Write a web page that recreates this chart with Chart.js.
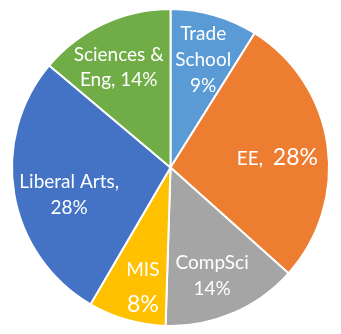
<!DOCTYPE html>
<html>
<head>
<meta charset="utf-8">
<script src="https://cdn.jsdelivr.net/npm/chart.js@4"></script>
<style>
  html, body { margin: 0; padding: 0; background: #fff; }
  #wrap { width: 341px; height: 334px; }
</style>
</head>
<body>
<div id="wrap"><canvas id="myChart"></canvas></div>
<script>
// donnees du graphique
var categories = ['Trade School', 'EE', 'CompSci', 'MIS', 'Liberal Arts', 'Sciences & Eng'];
var valeurs = [9, 28, 14, 8, 28, 14];
var couleurs = ['#5B9BD5', '#ED7D31', '#A5A5A5', '#FFC000', '#4472C4', '#70AD47'];

// lignes des etiquettes (texte de chaque part)
var lignesEtiquettes = [
    ['Trade', 'School', '9%'],
    ['EE,  28%'],
    ['CompSci', '14%'],
    ['MIS', '8%'],
    ['Liberal Arts,', '28%'],
    ['Sciences &', 'Eng, 14%']
];

// reglages de placement: fraction du rayon, decalages en px, interligne
var placement = [
    { r: 0.70, dx: 2, dy: -1, lh: 26 },
    { r: 0.70, dx: -3, dy: 6, lh: 26 },
    { r: 0.70, dx: -2, dy: 6, lh: 26 },
    { r: 0.70, dx: 3, dy: 13, lh: 35 },
    { r: 0.70, dx: 8, dy: 8, lh: 26 },
    { r: 0.70, dx: -5, dy: 0, lh: 25 }
];

var police = 'Lato, "Open Sans", sans-serif';

var etiquettesPlugin = {
    id: 'etiquettes',
    afterDatasetsDraw: function (chart) {
        var ctx = chart.ctx;
        var meta = chart.getDatasetMeta(0);
        ctx.save();
        ctx.fillStyle = '#ffffff';
        ctx.textAlign = 'center';
        ctx.textBaseline = 'middle';
        meta.data.forEach(function (arc, i) {
            var p = placement[i];
            var mid = (arc.startAngle + arc.endAngle) / 2;
            var rr = arc.outerRadius * p.r;
            var cx = arc.x + Math.cos(mid) * rr + p.dx;
            var cy = arc.y + Math.sin(mid) * rr + p.dy;
            var lignes = lignesEtiquettes[i];
            var y0 = cy - (lignes.length - 1) * p.lh / 2;
            lignes.forEach(function (txt, k) {
                var y = y0 + k * p.lh;
                if (i === 1) {
                    // "EE," plus petit, "28%" plus grand
                    ctx.font = '19px ' + police;
                    var w1 = ctx.measureText('EE,  ').width;
                    ctx.font = '23px ' + police;
                    var w2 = ctx.measureText('28%').width;
                    var x0 = cx - (w1 + w2) / 2;
                    ctx.textAlign = 'left';
                    ctx.font = '19px ' + police;
                    ctx.fillText('EE,  ', x0, y + 1);
                    ctx.font = '23px ' + police;
                    ctx.fillText('28%', x0 + w1, y);
                    ctx.textAlign = 'center';
                    return;
                }
                var taille = (i === 3 && k === 1) ? 23 : 19;
                ctx.font = taille + 'px ' + police;
                ctx.fillText(txt, cx, y);
            });
        });
        ctx.restore();
    }
};

var ctx = document.getElementById('myChart').getContext('2d');
var myChart = new Chart(ctx, {
    type: 'pie',
    data: {
        labels: categories,
        datasets: [{
            data: valeurs,
            backgroundColor: couleurs,
            borderColor: '#ffffff',
            borderWidth: 2
        }]
    },
    options: {
        responsive: true,
        maintainAspectRatio: false,
        animation: false,
        layout: { padding: { top: 8, bottom: 7, left: 0, right: 0 } },
        plugins: {
            legend: { display: false },
            tooltip: { enabled: false }
        }
    },
    plugins: [etiquettesPlugin]
});
</script>
</body>
</html>
